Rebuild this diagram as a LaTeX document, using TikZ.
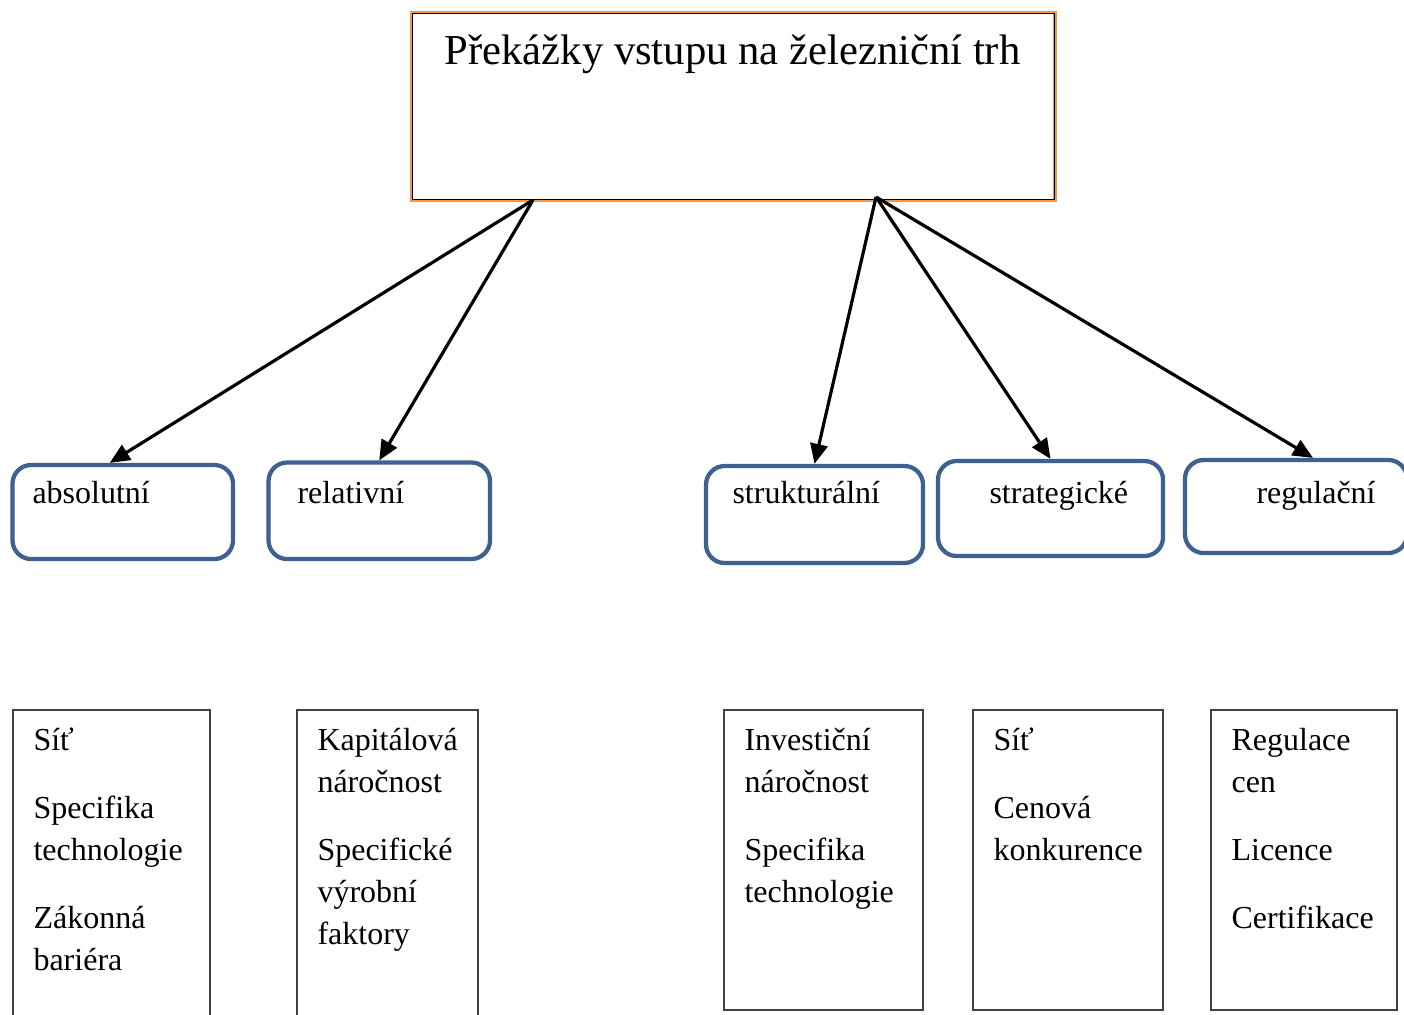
\documentclass[tikz,border=0pt]{standalone}
\usepackage{fontspec}
\setmainfont{Liberation Serif}
\usetikzlibrary{arrows.meta}

\definecolor{boxblue}{RGB}{63,97,144}
\definecolor{titleorange}{RGB}{247,150,70}

\tikzset{
    boxsize/.style 2 args={minimum width=#1*0.375pt, minimum height=#2*0.375pt},
    titlebox/.style={draw=titleorange, line width=1.15pt, inner sep=0pt},
    catbox/.style={draw=boxblue, line width=1.6pt, rounded corners=7pt, inner sep=0pt},
    itembox/.style={draw=black!75, line width=0.6pt, inner sep=0pt},
    titletext/.style={font=\fontsize{16pt}{19pt}\selectfont, inner sep=0pt},
    cattext/.style={font=\fontsize{12pt}{15.75pt}\selectfont, inner sep=0pt},
    itemtext/.style={font=\fontsize{12pt}{15.75pt}\selectfont, inner sep=0pt, align=left},
    link/.style={-{Triangle[length=7.5pt,width=6.5pt]}, line width=1.2pt},
}

\begin{document}
\begin{tikzpicture}[x=0.375pt, y=-0.375pt]
    \useasboundingbox (0,0) rectangle (1404,1014);

    \node[titlebox, boxsize={643.5}{188}] (top) at (733.25,106.5) {};
    \draw[black, line width=0.55pt] ([shift={(2.3,2.3)}]top.north west) rectangle ([shift={(-2.3,-2.3)}]top.south east);
    \node[titletext, anchor=base] (title) at (732.5,64) {Překážky vstupu na železniční trh};

    \node[catbox, boxsize={220.5}{94}] (abs) at (122.75,512) {};
    \node[catbox, boxsize={221.5}{96.5}] (rel) at (379.25,510.75) {};
    \node[catbox, boxsize={217}{97}] (str) at (814.5,514.5) {};
    \node[catbox, boxsize={225}{95}] (stg) at (1050.5,508.5) {};
    \node[catbox, boxsize={222}{93}] (reg) at (1296,506.5) {};

    \node[cattext, anchor=base west] (absT) at (32,503) {absolutní};
    \node[cattext, anchor=base west] (relT) at (297,503) {relativní};
    \node[cattext, anchor=base west] (strT) at (732,503) {strukturální};
    \node[cattext, anchor=base west] (stgT) at (989,503) {strategické};
    \node[cattext, anchor=base west] (regT) at (1256,503) {regulační};

    \coordinate (srcL) at (533,200);
    \coordinate (srcR) at (876,197);

    \draw[link] (srcL) -- ([shift={(-13,0)}]abs.north);
    \draw[link] (srcL) -- (rel.north);
    \foreach \dst in {str, stg} {
        \draw[link] (srcR) -- (\dst.north);
    }
    \draw[link] (srcR) -- ([shift={(17,0)}]reg.north);

    \node[itembox, boxsize={197}{330}] (absL) at (111.5,875) {};
    \node[itembox, boxsize={181}{330}] (relL) at (387.5,875) {};
    \node[itembox, boxsize={199}{300}] (strL) at (823.5,860) {};
    \node[itembox, boxsize={190}{300}] (stgL) at (1068,860) {};
    \node[itembox, boxsize={186}{300}] (regL) at (1304,860) {};

    \node[itemtext, anchor=north west] (absI) at (33,720.6) {\strut Síť\\[9.75pt] Specifika\\ technologie\\[9.75pt] Zákonná\\ bariéra};
    \node[itemtext, anchor=north west] (relI) at (317,720.6) {\strut Kapitálová\\ náročnost\\[9.75pt] Specifické\\ výrobní\\ faktory};
    \node[itemtext, anchor=north west] (strI) at (744,720.6) {\strut Investiční\\ náročnost\\[9.75pt] Specifika\\ technologie};
    \node[itemtext, anchor=north west] (stgI) at (993,720.6) {\strut Síť\\[9.75pt] Cenová\\ konkurence};
    \node[itemtext, anchor=north west] (regI) at (1231,720.6) {\strut Regulace\\ cen\\[9.75pt] Licence\\[9.75pt] Certifikace};
\end{tikzpicture}
\end{document}
